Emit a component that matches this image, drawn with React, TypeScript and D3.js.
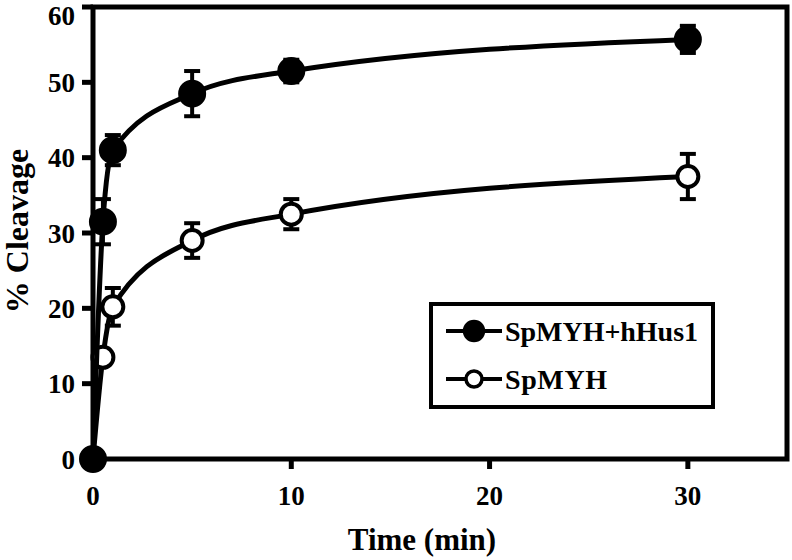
import React from "react";
import * as d3 from "d3";

const times = [0, 0.5, 1, 5, 10, 30];
const hus1Values = [0, 31.5, 41, 48.5, 51.5, 55.7];
const hus1Errors = [0, 3, 2, 3, 1.5, 1.8];
const myhValues = [0, 13.5, 20.2, 29, 32.5, 37.5];
const myhErrors = [0, 0, 2.5, 2.3, 2, 3];
const xTicks = [0, 10, 20, 30];
const yTicks = [0, 10, 20, 30, 40, 50, 60];
const legendLabels = ["SpMYH+hHus1", "SpMYH"];

export default function App() {
  const W = 792, H = 560;
  const left = 93, right = 787, top = 7, bottom = 459;
  const x = d3.scaleLinear().domain([0, 35]).range([left, right]);
  const y = d3.scaleLinear().domain([0, 60]).range([bottom, top]);
  const font = "'Liberation Serif', 'Times New Roman', serif";
  const line = d3.line<number>().x((_, i) => x(times[i])).y((d) => y(d)).curve(d3.curveMonotoneX);

  const series = [
    { vals: myhValues, errs: myhErrors, filled: false },
    { vals: hus1Values, errs: hus1Errors, filled: true },
  ];

  return (
    <svg width={W} height={H} style={{ position: "absolute", left: 0, top: 0, background: "#fff" }}>
      <rect x={0} y={0} width={W} height={H} fill="#fff" />
      <path d={`M${left},${bottom} V${top} H${right} V${bottom} Z`} fill="none" stroke="#000" strokeWidth={5} />
      {yTicks.map((t) => (
        <g key={"y" + t}>
          <line x1={left - 11} x2={left} y1={y(t)} y2={y(t)} stroke="#000" strokeWidth={5} />
          <text x={left - 18} y={Math.max(y(t), 15)} dy="0.36em" textAnchor="end" fontFamily={font} fontWeight="bold" fontSize={27}>{t}</text>
        </g>
      ))}
      {xTicks.map((t) => (
        <g key={"x" + t}>
          <line x1={x(t)} x2={x(t)} y1={bottom} y2={bottom + 10} stroke="#000" strokeWidth={5} />
          <text x={x(t)} y={bottom + 46} textAnchor="middle" fontFamily={font} fontWeight="bold" fontSize={27}>{t}</text>
        </g>
      ))}
      <text x={422} y={550} textAnchor="middle" fontFamily={font} fontWeight="bold" fontSize={31}>Time (min)</text>
      <text transform={`translate(28,231) rotate(-90)`} textAnchor="middle" fontFamily={font} fontWeight="bold" fontSize={32}>% Cleavage</text>

      {series.map((s, si) => (
        <g key={"s" + si}>
          <path d={line(s.vals) || ""} fill="none" stroke="#000" strokeWidth={5} />
          {s.vals.map((v, i) =>
            s.errs[i] > 0 ? (
              <g key={"e" + i}>
                <line x1={x(times[i])} x2={x(times[i])} y1={y(v - s.errs[i])} y2={y(v + s.errs[i])} stroke="#000" strokeWidth={4} />
                <line x1={x(times[i]) - 8} x2={x(times[i]) + 8} y1={y(v - s.errs[i])} y2={y(v - s.errs[i])} stroke="#000" strokeWidth={4} />
                <line x1={x(times[i]) - 8} x2={x(times[i]) + 8} y1={y(v + s.errs[i])} y2={y(v + s.errs[i])} stroke="#000" strokeWidth={4} />
              </g>
            ) : null
          )}
          {s.vals.map((v, i) => (
            <circle key={"c" + i} cx={x(times[i])} cy={y(v)} r={s.filled ? 12 : 10.5} fill={s.filled ? "#000" : "#fff"} stroke="#000" strokeWidth={4} />
          ))}
        </g>
      ))}

      <rect x={431} y={304} width={282} height={103} fill="#fff" stroke="#000" strokeWidth={4} />
      {legendLabels.map((lab, i) => {
        const ly = 331 + i * 48;
        return (
          <g key={"l" + i}>
            <line x1={446} x2={502} y1={ly} y2={ly} stroke="#000" strokeWidth={4} />
            <circle cx={474} cy={ly} r={i === 0 ? 9.5 : 8} fill={i === 0 ? "#000" : "#fff"} stroke="#000" strokeWidth={3.5} />
            <text x={505} y={ly} dy="0.34em" fontFamily={font} fontWeight="bold" fontSize={28} textLength={i === 0 ? 193 : 102}>{lab}</text>
          </g>
        );
      })}
    </svg>
  );
}
